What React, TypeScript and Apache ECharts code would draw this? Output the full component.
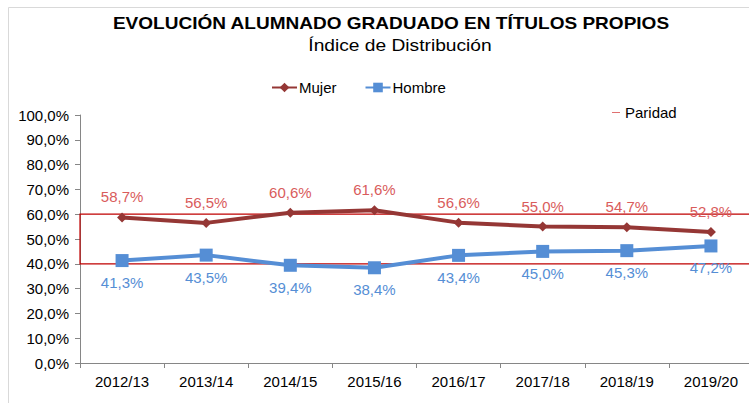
import React, { useEffect, useRef } from "react";
import * as echarts from "echarts";

const categories = ["2012/13", "2013/14", "2014/15", "2015/16", "2016/17", "2017/18", "2018/19", "2019/20"];
const mujer = [58.7, 56.5, 60.6, 61.6, 56.6, 55.0, 54.7, 52.8];
const hombre = [41.3, 43.5, 39.4, 38.4, 43.4, 45.0, 45.3, 47.2];
const paridadLow = 40;
const paridadHigh = 60;
const titleText = "EVOLUCIÓN ALUMNADO GRADUADO EN TÍTULOS PROPIOS";
const subtitleText = "Índice de Distribución";

const fmt = (v: number) => v.toFixed(1).replace(".", ",") + "%";
const FONT = "Liberation Sans, Arial, sans-serif";

export default function App() {
  const ref = useRef<HTMLDivElement>(null);
  useEffect(() => {
    const chart = echarts.init(ref.current!, null, { renderer: "svg" });
    chart.setOption({
      animation: false,
      textStyle: { fontFamily: FONT },
      legend: [
        {
          data: ["Mujer", "Hombre"],
          left: 266,
          top: 75,
          itemWidth: 25,
          itemHeight: 12,
          itemGap: 28,
          textStyle: { fontSize: 15, color: "#000", fontFamily: FONT, padding: [0, 0, 0, -3] },
        },
        {
          data: [{ name: "Paridad", icon: "rect", itemStyle: { color: "#e07070" } }],
          left: 607,
          top: 100,
          itemWidth: 8,
          itemHeight: 1,
          itemGap: 5,
          textStyle: { fontSize: 15, color: "#000", fontFamily: FONT },
        },
      ],
      grid: { left: 80, right: 0, top: 115, bottom: 40 },
      xAxis: {
        type: "category",
        data: categories,
        boundaryGap: true,
        axisLine: { lineStyle: { color: "#868686", width: 1 } },
        axisTick: { show: true, alignWithLabel: false, length: 5, lineStyle: { color: "#868686" } },
        axisLabel: { fontSize: 15, color: "#000", margin: 11, fontFamily: FONT },
      },
      yAxis: {
        type: "value",
        min: 0,
        max: 100,
        interval: 10,
        axisLine: { show: true, lineStyle: { color: "#868686", width: 1 } },
        axisTick: { show: true, length: 5, lineStyle: { color: "#868686" } },
        splitLine: { show: false },
        axisLabel: { fontSize: 15, color: "#000", margin: 11, fontFamily: FONT, formatter: (v: number) => fmt(v) },
      },
      series: [
        {
          name: "Paridad",
          type: "line",
          data: [],
          itemStyle: { color: "#e07070" },
          lineStyle: { color: "#e07070", width: 1 },
          markArea: {
            silent: true,
            itemStyle: { color: "rgba(0,0,0,0)", borderColor: "#c00000", borderWidth: 1.2 },
            data: [[{ yAxis: paridadLow }, { yAxis: paridadHigh }]],
          },
          z: 1,
        },
        {
          name: "Mujer",
          type: "line",
          data: mujer,
          symbol: "diamond",
          symbolSize: 10,
          itemStyle: { color: "#953735" },
          lineStyle: { color: "#953735", width: 4 },
          label: {
            show: true,
            position: "top",
            distance: 8,
            fontSize: 15,
            color: "#d95c5c",
            fontFamily: FONT,
            formatter: (p: any) => fmt(p.value),
          },
          z: 3,
        },
        {
          name: "Hombre",
          type: "line",
          data: hombre,
          symbol: "rect",
          symbolSize: 13,
          itemStyle: { color: "#558ed5" },
          lineStyle: { color: "#558ed5", width: 4 },
          label: {
            show: true,
            position: "bottom",
            distance: 8,
            fontSize: 15,
            color: "#558ed5",
            fontFamily: FONT,
            formatter: (p: any) => fmt(p.value),
          },
          z: 3,
        },
      ],
      graphic: [
        {
          type: "rect",
          shape: { x: 8.5, y: 7.5, width: 760, height: 420 },
          style: { fill: "none", stroke: "#d9d9d9", lineWidth: 1 },
          silent: true,
        },
        {
          type: "text",
          x: 391,
          y: 23,
          scaleX: 1.12,
          style: {
            text: titleText,
            fill: "#000",
            fontSize: 17,
            fontWeight: "bold",
            fontFamily: FONT,
            textAlign: "center",
            textVerticalAlign: "middle",
          },
          silent: true,
        },
        {
          type: "text",
          x: 400,
          y: 46,
          scaleX: 1.2,
          style: {
            text: subtitleText,
            fill: "#000",
            fontSize: 16,
            fontFamily: FONT,
            textAlign: "center",
            textVerticalAlign: "middle",
          },
          silent: true,
        },
      ],
    });
    return () => chart.dispose();
  }, []);
  return (
    <div
      style={{ position: "absolute", left: 0, top: 0, width: 749, height: 403, overflow: "hidden", background: "#fff" }}
    >
      <div ref={ref} style={{ width: 753, height: 403 }} />
    </div>
  );
}
